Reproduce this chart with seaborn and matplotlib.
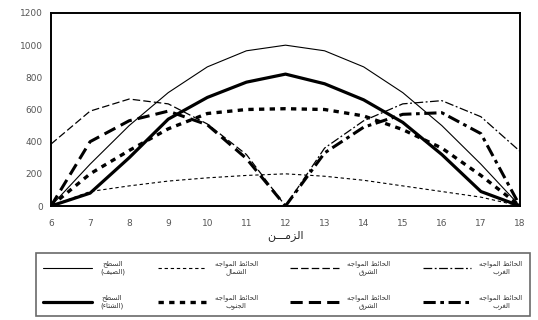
import matplotlib
matplotlib.use("Agg")
import matplotlib.pyplot as plt
import seaborn as sns

# hours on the x axis
hours = [6, 7, 8, 9, 10, 11, 12, 13, 14, 15, 16, 17, 18]
hours_am = [6, 7, 8, 9, 10, 11, 12]
hours_pm = [12, 13, 14, 15, 16, 17, 18]

# values
roof_summer = [0, 260, 500, 705, 865, 965, 1000, 965, 865, 705, 500, 260, 0]
roof_winter = [0, 80, 300, 540, 675, 770, 820, 760, 660, 520, 320, 90, 0]
north_summer = [0, 90, 125, 155, 175, 190, 200, 185, 160, 125, 90, 55, 0]
south_winter = [0, 200, 345, 480, 575, 600, 605, 600, 560, 475, 360, 190, 0]
east_summer = [385, 590, 665, 635, 510, 320, 0]
east_winter = [0, 400, 530, 590, 505, 295, 0]
west_summer = [0, 360, 530, 635, 655, 555, 340]
west_winter = [0, 330, 490, 570, 580, 450, 0]

y_ticks = [0, 200, 400, 600, 800, 1000, 1200]

# --- small arabic shaper (matplotlib has no RTL shaping) ---
FORMS = {
    '\u0621': ('\ufe80',),
    '\u0626': ('\ufe89', '\ufe8a', '\ufe8b', '\ufe8c'),
    '\u0627': ('\ufe8d', '\ufe8e'),
    '\u0628': ('\ufe8f', '\ufe90', '\ufe91', '\ufe92'),
    '\u062a': ('\ufe95', '\ufe96', '\ufe97', '\ufe98'),
    '\u062c': ('\ufe9d', '\ufe9e', '\ufe9f', '\ufea0'),
    '\u062d': ('\ufea1', '\ufea2', '\ufea3', '\ufea4'),
    '\u0631': ('\ufead', '\ufeae'),
    '\u0632': ('\ufeaf', '\ufeb0'),
    '\u0633': ('\ufeb1', '\ufeb2', '\ufeb3', '\ufeb4'),
    '\u0634': ('\ufeb5', '\ufeb6', '\ufeb7', '\ufeb8'),
    '\u0635': ('\ufeb9', '\ufeba', '\ufebb', '\ufebc'),
    '\u0637': ('\ufec1', '\ufec2', '\ufec3', '\ufec4'),
    '\u063a': ('\ufecd', '\ufece', '\ufecf', '\ufed0'),
    '\u0641': ('\ufed1', '\ufed2', '\ufed3', '\ufed4'),
    '\u0642': ('\ufed5', '\ufed6', '\ufed7', '\ufed8'),
    '\u0644': ('\ufedd', '\ufede', '\ufedf', '\ufee0'),
    '\u0645': ('\ufee1', '\ufee2', '\ufee3', '\ufee4'),
    '\u0646': ('\ufee5', '\ufee6', '\ufee7', '\ufee8'),
    '\u0647': ('\ufee9', '\ufeea', '\ufeeb', '\ufeec'),
    '\u0648': ('\ufeed', '\ufeee'),
    '\u064a': ('\ufef1', '\ufef2', '\ufef3', '\ufef4'),
    '\u0640': ('\u0640', '\u0640', '\u0640', '\u0640'),
}


def shape_line(text):
    out = []
    for i, ch in enumerate(text):
        forms = FORMS.get(ch)
        if forms is None:
            out.append(ch)
            continue
        prev = text[i - 1] if i > 0 else ''
        nxt = text[i + 1] if i < len(text) - 1 else ''
        join_prev = len(forms) > 1 and prev in FORMS and len(FORMS[prev]) == 4
        join_next = len(forms) == 4 and nxt in FORMS and len(FORMS[nxt]) > 1
        if len(forms) == 1:
            out.append(forms[0])
        elif join_prev and join_next:
            out.append(forms[3])
        elif join_prev:
            out.append(forms[1])
        elif join_next:
            out.append(forms[2])
        else:
            out.append(forms[0])
    vis = ''.join(out)[::-1]
    return vis.translate(str.maketrans('()', ')('))


def ar(text):
    return '\n'.join(shape_line(t) for t in text.split('\n'))


sns.set_style("white")
plt.rcParams['font.family'] = ['DejaVu Sans']

fig = plt.figure(figsize=(5.38, 3.2), dpi=100)
ax = fig.add_axes([51 / 538, 1 - 206 / 320, 469 / 538, 193 / 320])

series = [
    (hours, roof_summer, 'السطح\n(الصيف)', 0.8, '-'),
    (hours, roof_winter, 'السطح\n(الشتاء)', 2.3, '-'),
    (hours, north_summer, 'الحائط المواجه\nالشمال', 0.8, (0, (3, 2.5))),
    (hours, south_winter, 'الحائط المواجه\nالجنوب', 2.4, (0, (1.6, 1.6))),
    (hours_am, east_summer, 'الحائط المواجه\nالشرق', 0.9, (0, (6, 2.5))),
    (hours_am, east_winter, 'الحائط المواجه\nالشرق', 2.2, (0, (4, 2))),
    (hours_pm, west_summer, 'الحائط المواجه\nالغرب', 0.9, (0, (7, 2, 1.5, 2))),
    (hours_pm, west_winter, 'الحائط المواجه\nالغرب', 2.2, (0, (4, 1.5, 1.2, 1.5))),
]

for xs, ys, name, lw, ls in series:
    sns.lineplot(x=xs, y=ys, ax=ax, color='black', lw=lw, linestyle=ls,
                 label=ar(name), legend=False)

ax.set_xlim(6, 18)
ax.set_ylim(0, 1200)
ax.set_xticks(hours)
ax.set_yticks(y_ticks)
ax.tick_params(axis='x', direction='inout', length=5, width=1, labelsize=6.5,
               labelcolor='#555555', pad=7)
ax.tick_params(axis='y', length=0, labelsize=6.5, labelcolor='#555555', pad=6)
for sp in ax.spines.values():
    sp.set_color('black')
    sp.set_linewidth(1.4)
ax.set_xlabel(ar('الزمـــن'), fontsize=8, labelpad=1)
ax.set_ylabel('')

handles, labels = ax.get_legend_handles_labels()
leg = fig.legend(handles, labels, loc='upper left', ncol=4, mode='expand',
                 bbox_to_anchor=(33 / 538, 1 - 318 / 320, 500 / 538, 68 / 320),
                 fontsize=5, handlelength=7, handletextpad=1.2,
                 labelspacing=2.8, borderpad=1.0, frameon=True,
                 fancybox=False, edgecolor='#444444')
leg.get_frame().set_linewidth(1.2)
for t in leg.get_texts():
    t.set_multialignment('center')
    t.set_color('#333333')

fig.savefig('out.png', dpi=100)
